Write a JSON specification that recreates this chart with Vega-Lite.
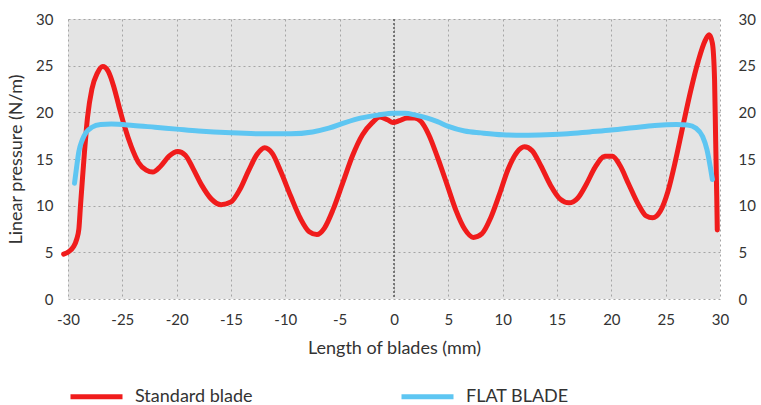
{
  "$schema": "https://vega.github.io/schema/vega-lite/v6.json",
  "width": 652,
  "height": 280,
  "autosize": {"type": "none"},
  "padding": {"left": 68, "top": 19, "right": 41, "bottom": 106},
  "background": "white",
  "config": {
    "view": {"fill": "#e4e4e4", "stroke": null},
    "font": "Lato",
    "axis": {
      "labelFont": "Lato",
      "titleFont": "Lato",
      "labelFontSize": 15,
      "titleFontSize": 18,
      "labelColor": "#333333",
      "titleColor": "#333333",
      "titleFontWeight": "normal",
      "domain": false,
      "ticks": false,
      "labelFlush": false,
      "gridColor": "#a5a5a5",
      "gridDash": [2, 3],
      "gridWidth": 1
    },
    "legend": {
      "labelFont": "Lato",
      "labelFontSize": 18,
      "labelColor": "#333333",
      "padding": 0
    }
  },
  "data": {
    "values": [
      {"x": -30.4, "y": 4.8, "series": "Standard blade"},
      {"x": -29.9, "y": 5.1, "series": "Standard blade"},
      {"x": -29.5, "y": 5.6, "series": "Standard blade"},
      {"x": -29.2, "y": 6.4, "series": "Standard blade"},
      {"x": -29.0, "y": 7.5, "series": "Standard blade"},
      {"x": -28.85, "y": 10.0, "series": "Standard blade"},
      {"x": -28.7, "y": 12.4, "series": "Standard blade"},
      {"x": -28.5, "y": 15.5, "series": "Standard blade"},
      {"x": -28.2, "y": 19.5, "series": "Standard blade"},
      {"x": -27.8, "y": 22.5, "series": "Standard blade"},
      {"x": -27.3, "y": 24.2, "series": "Standard blade"},
      {"x": -26.8, "y": 24.9, "series": "Standard blade"},
      {"x": -26.3, "y": 24.4, "series": "Standard blade"},
      {"x": -25.8, "y": 22.8, "series": "Standard blade"},
      {"x": -25.3, "y": 20.6, "series": "Standard blade"},
      {"x": -24.8, "y": 18.5, "series": "Standard blade"},
      {"x": -24.2, "y": 16.4, "series": "Standard blade"},
      {"x": -23.5, "y": 14.6, "series": "Standard blade"},
      {"x": -22.8, "y": 13.8, "series": "Standard blade"},
      {"x": -22.2, "y": 13.6, "series": "Standard blade"},
      {"x": -21.5, "y": 14.2, "series": "Standard blade"},
      {"x": -20.7, "y": 15.3, "series": "Standard blade"},
      {"x": -19.9, "y": 15.8, "series": "Standard blade"},
      {"x": -19.2, "y": 15.4, "series": "Standard blade"},
      {"x": -18.5, "y": 14.0, "series": "Standard blade"},
      {"x": -17.7, "y": 12.2, "series": "Standard blade"},
      {"x": -16.8, "y": 10.7, "series": "Standard blade"},
      {"x": -15.9, "y": 10.1, "series": "Standard blade"},
      {"x": -15.0, "y": 10.4, "series": "Standard blade"},
      {"x": -14.2, "y": 11.7, "series": "Standard blade"},
      {"x": -13.4, "y": 13.7, "series": "Standard blade"},
      {"x": -12.6, "y": 15.5, "series": "Standard blade"},
      {"x": -11.9, "y": 16.2, "series": "Standard blade"},
      {"x": -11.2, "y": 15.6, "series": "Standard blade"},
      {"x": -10.4, "y": 13.6, "series": "Standard blade"},
      {"x": -9.5, "y": 11.0, "series": "Standard blade"},
      {"x": -8.6, "y": 8.6, "series": "Standard blade"},
      {"x": -7.8, "y": 7.2, "series": "Standard blade"},
      {"x": -7.1, "y": 6.9, "series": "Standard blade"},
      {"x": -6.4, "y": 7.6, "series": "Standard blade"},
      {"x": -5.6, "y": 9.6, "series": "Standard blade"},
      {"x": -4.7, "y": 12.5, "series": "Standard blade"},
      {"x": -3.8, "y": 15.4, "series": "Standard blade"},
      {"x": -2.9, "y": 17.6, "series": "Standard blade"},
      {"x": -2.0, "y": 18.9, "series": "Standard blade"},
      {"x": -1.3, "y": 19.5, "series": "Standard blade"},
      {"x": -0.6, "y": 19.2, "series": "Standard blade"},
      {"x": -0.1, "y": 18.9, "series": "Standard blade"},
      {"x": 0.5, "y": 19.1, "series": "Standard blade"},
      {"x": 1.2, "y": 19.4, "series": "Standard blade"},
      {"x": 1.9, "y": 19.4, "series": "Standard blade"},
      {"x": 2.5, "y": 19.0, "series": "Standard blade"},
      {"x": 3.2, "y": 17.6, "series": "Standard blade"},
      {"x": 4.0, "y": 15.2, "series": "Standard blade"},
      {"x": 4.9, "y": 12.2, "series": "Standard blade"},
      {"x": 5.7, "y": 9.5, "series": "Standard blade"},
      {"x": 6.5, "y": 7.5, "series": "Standard blade"},
      {"x": 7.3, "y": 6.6, "series": "Standard blade"},
      {"x": 8.1, "y": 7.0, "series": "Standard blade"},
      {"x": 8.9, "y": 8.7, "series": "Standard blade"},
      {"x": 9.7, "y": 11.2, "series": "Standard blade"},
      {"x": 10.5, "y": 13.9, "series": "Standard blade"},
      {"x": 11.3, "y": 15.7, "series": "Standard blade"},
      {"x": 12.0, "y": 16.3, "series": "Standard blade"},
      {"x": 12.7, "y": 15.9, "series": "Standard blade"},
      {"x": 13.5, "y": 14.3, "series": "Standard blade"},
      {"x": 14.4, "y": 12.2, "series": "Standard blade"},
      {"x": 15.3, "y": 10.7, "series": "Standard blade"},
      {"x": 16.1, "y": 10.3, "series": "Standard blade"},
      {"x": 16.9, "y": 10.8, "series": "Standard blade"},
      {"x": 17.7, "y": 12.3, "series": "Standard blade"},
      {"x": 18.5, "y": 14.1, "series": "Standard blade"},
      {"x": 19.4, "y": 15.3, "series": "Standard blade"},
      {"x": 20.1, "y": 15.3, "series": "Standard blade"},
      {"x": 20.8, "y": 14.3, "series": "Standard blade"},
      {"x": 21.6, "y": 12.3, "series": "Standard blade"},
      {"x": 22.5, "y": 10.1, "series": "Standard blade"},
      {"x": 23.2, "y": 8.9, "series": "Standard blade"},
      {"x": 23.8, "y": 8.7, "series": "Standard blade"},
      {"x": 24.5, "y": 9.4, "series": "Standard blade"},
      {"x": 25.2, "y": 11.5, "series": "Standard blade"},
      {"x": 25.9, "y": 14.8, "series": "Standard blade"},
      {"x": 26.6, "y": 18.6, "series": "Standard blade"},
      {"x": 27.3, "y": 22.3, "series": "Standard blade"},
      {"x": 28.0, "y": 25.5, "series": "Standard blade"},
      {"x": 28.6, "y": 27.6, "series": "Standard blade"},
      {"x": 29.0, "y": 28.3, "series": "Standard blade"},
      {"x": 29.3, "y": 27.4, "series": "Standard blade"},
      {"x": 29.5, "y": 23.5, "series": "Standard blade"},
      {"x": 29.6, "y": 17.0, "series": "Standard blade"},
      {"x": 29.7, "y": 11.0, "series": "Standard blade"},
      {"x": 29.75, "y": 7.4, "series": "Standard blade"},
      {"x": -29.4, "y": 12.4, "series": "FLAT BLADE"},
      {"x": -29.2, "y": 14.2, "series": "FLAT BLADE"},
      {"x": -29.0, "y": 15.8, "series": "FLAT BLADE"},
      {"x": -28.7, "y": 17.0, "series": "FLAT BLADE"},
      {"x": -28.3, "y": 17.9, "series": "FLAT BLADE"},
      {"x": -27.8, "y": 18.4, "series": "FLAT BLADE"},
      {"x": -27.0, "y": 18.7, "series": "FLAT BLADE"},
      {"x": -26.0, "y": 18.75, "series": "FLAT BLADE"},
      {"x": -24.0, "y": 18.6, "series": "FLAT BLADE"},
      {"x": -22.0, "y": 18.4, "series": "FLAT BLADE"},
      {"x": -20.0, "y": 18.2, "series": "FLAT BLADE"},
      {"x": -18.0, "y": 18.0, "series": "FLAT BLADE"},
      {"x": -15.0, "y": 17.8, "series": "FLAT BLADE"},
      {"x": -12.0, "y": 17.7, "series": "FLAT BLADE"},
      {"x": -9.5, "y": 17.7, "series": "FLAT BLADE"},
      {"x": -7.5, "y": 17.9, "series": "FLAT BLADE"},
      {"x": -6.0, "y": 18.3, "series": "FLAT BLADE"},
      {"x": -4.5, "y": 18.9, "series": "FLAT BLADE"},
      {"x": -3.0, "y": 19.4, "series": "FLAT BLADE"},
      {"x": -1.5, "y": 19.7, "series": "FLAT BLADE"},
      {"x": 0.0, "y": 19.9, "series": "FLAT BLADE"},
      {"x": 1.0, "y": 19.9, "series": "FLAT BLADE"},
      {"x": 2.0, "y": 19.7, "series": "FLAT BLADE"},
      {"x": 3.0, "y": 19.4, "series": "FLAT BLADE"},
      {"x": 4.0, "y": 19.0, "series": "FLAT BLADE"},
      {"x": 5.0, "y": 18.5, "series": "FLAT BLADE"},
      {"x": 6.5, "y": 18.0, "series": "FLAT BLADE"},
      {"x": 8.0, "y": 17.8, "series": "FLAT BLADE"},
      {"x": 10.0, "y": 17.6, "series": "FLAT BLADE"},
      {"x": 12.0, "y": 17.55, "series": "FLAT BLADE"},
      {"x": 14.0, "y": 17.6, "series": "FLAT BLADE"},
      {"x": 16.0, "y": 17.7, "series": "FLAT BLADE"},
      {"x": 18.0, "y": 17.9, "series": "FLAT BLADE"},
      {"x": 20.0, "y": 18.1, "series": "FLAT BLADE"},
      {"x": 22.0, "y": 18.35, "series": "FLAT BLADE"},
      {"x": 24.0, "y": 18.6, "series": "FLAT BLADE"},
      {"x": 26.0, "y": 18.7, "series": "FLAT BLADE"},
      {"x": 27.0, "y": 18.65, "series": "FLAT BLADE"},
      {"x": 27.8, "y": 18.3, "series": "FLAT BLADE"},
      {"x": 28.4, "y": 17.4, "series": "FLAT BLADE"},
      {"x": 28.8, "y": 16.0, "series": "FLAT BLADE"},
      {"x": 29.1, "y": 14.2, "series": "FLAT BLADE"},
      {"x": 29.3, "y": 12.8, "series": "FLAT BLADE"}
    ]
  },
  "layer": [
    {
      "data": {"values": [{"x": 0}]},
      "mark": {"type": "rule", "color": "#555555", "strokeDash": [2, 2], "strokeWidth": 1.5},
      "encoding": {
        "x": {"field": "x", "type": "quantitative", "scale": {"domain": [-30, 30], "nice": false}, "title": "Length of blades (mm)", "axis": {"values": [-30, -25, -20, -15, -10, -5, 0, 5, 10, 15, 20, 25, 30], "labelExpr": "datum.value < 0 ? '-' + abs(datum.value) : '' + datum.value", "labelPadding": 13, "titlePadding": 12, "grid": true}}
      }
    },
    {
      "mark": {"type": "line", "interpolate": "monotone", "strokeWidth": 5, "strokeCap": "round", "strokeJoin": "round"},
      "encoding": {
        "x": {"field": "x", "type": "quantitative", "scale": {"domain": [-30, 30], "nice": false}, "title": "Length of blades (mm)", "axis": {"values": [-30, -25, -20, -15, -10, -5, 0, 5, 10, 15, 20, 25, 30], "labelExpr": "datum.value < 0 ? '-' + abs(datum.value) : '' + datum.value", "labelPadding": 13, "titlePadding": 12, "grid": true}},
        "y": {"field": "y", "type": "quantitative", "scale": {"domain": [0, 30], "nice": false}, "title": "Linear pressure (N/m)", "axis": {"orient": "left", "values": [0, 5, 10, 15, 20, 25, 30], "labelPadding": 15, "titlePadding": 10, "grid": true}},
        "color": {
          "field": "series",
          "type": "nominal",
          "sort": null,
          "scale": {"domain": ["Standard blade", "FLAT BLADE"], "range": ["#f01c1c", "#5ec6f2"]},
          "legend": {
            "title": null,
            "orient": "none",
            "direction": "horizontal",
            "legendX": 0,
            "legendY": 349,
            "symbolType": "stroke",
            "symbolSize": 2704,
            "symbolStrokeWidth": 5,
            "labelOffset": 10,
            "columnPadding": 138
          }
        }
      }
    },
    {
      "mark": {"type": "line", "opacity": 0},
      "encoding": {
        "x": {"field": "x", "type": "quantitative", "scale": {"domain": [-30, 30], "nice": false}, "title": "Length of blades (mm)", "axis": {"values": [-30, -25, -20, -15, -10, -5, 0, 5, 10, 15, 20, 25, 30], "labelExpr": "datum.value < 0 ? '-' + abs(datum.value) : '' + datum.value", "labelPadding": 13, "titlePadding": 12, "grid": true}},
        "y": {"field": "y", "type": "quantitative", "scale": {"domain": [0, 30], "nice": false}, "axis": {"orient": "right", "title": null, "values": [0, 5, 10, 15, 20, 25, 30], "labelPadding": 18, "grid": false}},
        "detail": {"field": "series", "type": "nominal"}
      }
    }
  ],
  "resolve": {"axis": {"y": "independent"}}
}
